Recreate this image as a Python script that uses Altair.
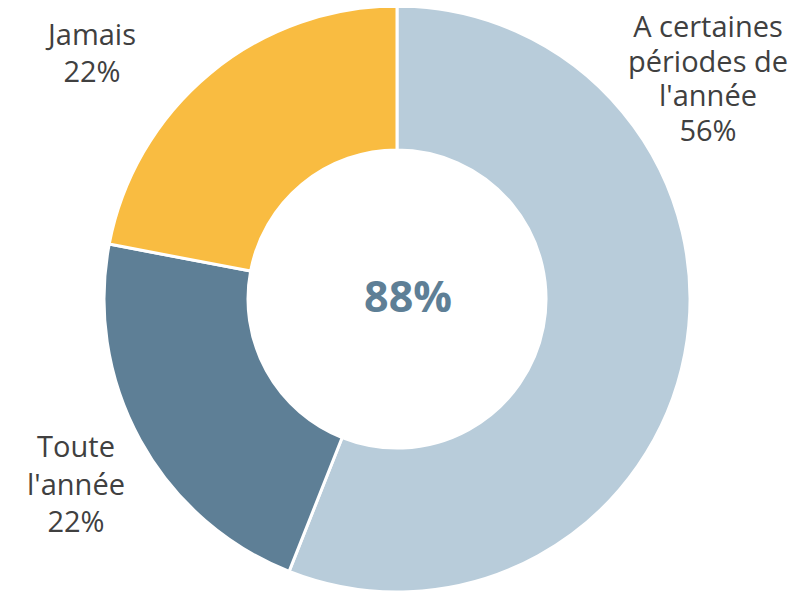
import altair as alt
import pandas as pd

categories = ["A certaines périodes de l'année", "Toute l'année", "Jamais"]
values = [56, 22, 22]
order = [0, 1, 2]
colors = ["#B8CCDA", "#5E7F96", "#F9BC41"]
label_texts = ["A certaines\npériodes de\nl'année\n56%", "Toute\nl'année\n22%", "Jamais\n22%"]
center_text = "88%"

FONT = "Open Sans"
TEXT_COLOR = "#404040"

df = pd.DataFrame({"cat": categories, "value": values, "order": order})

CX, CY = 389, 291

arc = alt.Chart(df).mark_arc(
    outerRadius=293, innerRadius=149, stroke="white", strokeWidth=3
).encode(
    theta=alt.Theta("value:Q", stack=True),
    order=alt.Order("order:Q"),
    color=alt.Color("cat:N", scale=alt.Scale(domain=categories, range=colors), legend=None),
    x=alt.value(CX),
    y=alt.value(CY),
)

label_pos = [(700, 29), (68, 449), (84, 37)]
label_lh = [34.5, 37.5, 37]
layers = [arc]
for txt, (lx, ly), lh in zip(label_texts, label_pos, label_lh):
    d = pd.DataFrame({"t": [txt]})
    layers.append(
        alt.Chart(d).mark_text(
            font=FONT, fontSize=29, color=TEXT_COLOR, lineBreak="\n", lineHeight=lh,
            align="center", baseline="alphabetic"
        ).encode(text="t:N", x=alt.value(lx), y=alt.value(ly))
    )

center = alt.Chart(pd.DataFrame({"t": [center_text]})).mark_text(
    font=FONT, fontSize=43, fontWeight="bold", color="#5E7F96",
    align="center", baseline="alphabetic"
).encode(text="t:N", x=alt.value(400), y=alt.value(304))
layers.append(center)

chart = alt.layer(*layers).properties(
    width=787, height=584, padding=0, autosize=alt.AutoSizeParams(type="none")
).configure_view(stroke=None)

chart.save("out.html", embed_options={"renderer": "svg", "actions": False})
